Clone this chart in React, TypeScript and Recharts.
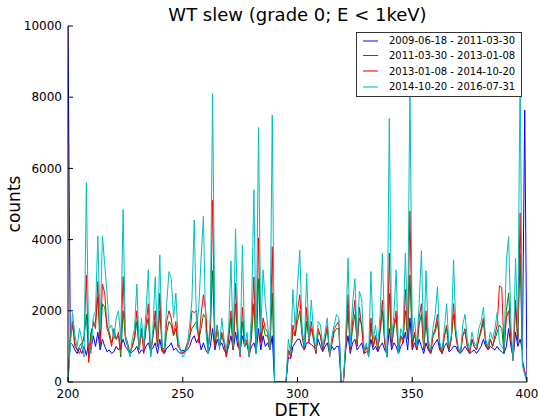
import React from "react";
import { LineChart, Line, XAxis, YAxis } from "recharts";

const DETX_START = 200;

const blueVals = [
  10000, 1100, 1050, 900, 800, 950, 800, 1000, 750, 1100,
  900, 1300, 1000, 1400, 900, 1200, 1000, 850, 900, 800,
  850, 1000, 900, 1000, 1200, 1000, 900, 800, 850, 900,
  1000, 800, 900, 850, 1000, 1100, 900, 950, 1100, 800,
  1200, 850, 800, 950, 1000, 1100, 900, 950, 850, 800,
  900, 850, 900, 1000, 1200, 1300, 1100, 1250, 900, 1100,
  900, 800, 1000, 1500, 900, 1200, 1000, 1100, 900, 800,
  1000, 1300, 900, 1400, 1000, 900, 1300, 1000, 1100, 800,
  1000, 1100, 850, 1500, 900, 1300, 1000, 1100, 900, 1300,
  0, 0, 0, 0, 0, 0, 700, 650, 1000, 1100,
  1200, 1200, 1000, 900, 1100, 1100, 1050, 1000, 900, 1200,
  1000, 850, 1000, 1100, 800, 1000, 900, 1000, 1000, 0,
  0, 900, 1300, 800, 1100, 1200, 900, 1000, 1100, 800,
  850, 800, 1200, 900, 1000, 850, 1000, 1100, 900, 800,
  1500, 900, 1100, 1000, 800, 1000, 1100, 1400, 900, 1800,
  900, 1100, 900, 1200, 1000, 800, 1100, 900, 800, 1000,
  1100, 1200, 900, 800, 1000, 1100, 850, 900, 1000, 1000,
  850, 800, 900, 1000, 900, 800, 850, 900, 800, 900,
  1000, 1200, 1000, 900, 1000, 950, 900, 1000, 900, 850,
  800, 1000, 1500, 1000, 700, 1400, 1000, 1200, 900, 7640,
  0,
];

const greenVals = [
  0, 1300, 1700, 1100, 900, 1000, 1100, 1200, 1900, 700,
  1400, 1600, 1700, 2400, 1000, 2200, 2100, 1600, 1400, 1100,
  1300, 1200, 1300, 700, 2000, 1300, 1100, 800, 1000, 1200,
  1700, 900, 1400, 1000, 1500, 1800, 800, 1300, 1700, 1000,
  2000, 1000, 800, 1400, 1700, 1600, 1300, 1500, 1000, 900,
  800, 900, 1100, 1300, 1500, 1600, 1700, 1200, 1500, 1900,
  1800, 900, 1400, 3130, 1000, 1500, 1000, 1300, 1100, 700,
  1200, 1800, 900, 2200, 1200, 800, 1700, 1000, 1100, 700,
  1300, 2200, 800, 2900, 1100, 1600, 1300, 1300, 900, 2500,
  0, 0, 0, 0, 0, 0, 900, 800, 1400, 1300,
  1700, 2000, 1300, 900, 1700, 1200, 1500, 1200, 800, 1400,
  1300, 900, 1200, 1500, 800, 1100, 1400, 1500, 1500, 0,
  0, 1000, 2000, 900, 1500, 1900, 1100, 1800, 1600, 900,
  1000, 800, 1600, 1000, 1300, 900, 1400, 2000, 1100, 700,
  2500, 1000, 1500, 1800, 800, 1300, 1200, 2000, 1200, 3000,
  1000, 1400, 900, 1600, 1900, 900, 1700, 1000, 800, 1300,
  1400, 1700, 1000, 800, 1300, 1500, 900, 1200, 1900, 1300,
  900, 800, 1300, 1400, 1000, 800, 1200, 1000, 900, 1200,
  1400, 1700, 1100, 900, 1200, 1000, 1200, 1400, 1600, 1500,
  800, 2000, 2500, 1200, 600, 2200, 1100, 3600, 600, 300,
  0,
];

const redVals = [
  0, 1200, 1600, 1000, 900, 800, 1000, 1300, 3000, 550,
  1200, 1700, 1500, 2820, 1100, 2750, 2500, 1500, 1300, 1000,
  1500, 1200, 1400, 900, 2960, 1200, 1000, 800, 1000, 1300,
  2000, 900, 1500, 800, 1600, 2200, 700, 1300, 2000, 1000,
  2500, 900, 800, 1700, 2000, 1800, 1300, 1700, 1000, 900,
  800, 850, 1000, 1200, 2000, 1950, 2000, 1100, 1900, 2450,
  2000, 900, 1500, 5100, 1000, 1600, 1000, 1400, 1100, 700,
  1300, 2000, 900, 2770, 1300, 700, 2100, 1000, 1200, 700,
  1500, 2950, 800, 4050, 1100, 1800, 1500, 1400, 900, 3800,
  0, 0, 0, 0, 0, 0, 900, 700, 1600, 1300,
  2000, 2450, 1400, 900, 2100, 1100, 1700, 1200, 800, 1500,
  1300, 900, 1200, 1600, 700, 1100, 1500, 1600, 1700, 0,
  0, 1000, 2450, 900, 1700, 2300, 1000, 2100, 1500, 800,
  1000, 700, 1800, 1000, 1300, 900, 1500, 2300, 1100, 700,
  3620, 1000, 1600, 2000, 800, 1300, 1100, 2600, 1300, 4800,
  1000, 1400, 900, 1800, 2200, 900, 2000, 1000, 800, 1300,
  1500, 1900, 1000, 800, 1300, 1600, 900, 1200, 2200, 1300,
  900, 800, 1300, 1500, 1000, 800, 1200, 1000, 900, 1200,
  1500, 1800, 1100, 900, 1200, 1000, 1300, 1600, 2700, 2650,
  900, 1800, 2000, 1200, 600, 2300, 1200, 4750, 600, 300,
  0,
];

const cyanVals = [
  0, 1000, 1950, 1300, 1000, 1500, 1200, 700, 5600, 1100,
  800, 1800, 2000, 4100, 1500, 4100, 3300, 2500, 1500, 1600,
  1200, 1800, 2000, 1200, 4850, 1300, 1000, 700, 1200, 1500,
  2750, 900, 1800, 1000, 2000, 3150, 700, 1500, 2950, 1200,
  3570, 1000, 900, 2200, 3100, 2900, 1800, 2500, 1200, 900,
  700, 800, 1000, 1600, 2300, 4550, 1500, 2100, 3500, 4650,
  1500, 800, 1800, 8100, 1200, 1600, 900, 1800, 1200, 900,
  1500, 3400, 1000, 4300, 1500, 800, 3850, 1000, 1400, 700,
  2000, 5400, 800, 7150, 1400, 3150, 2200, 1600, 900, 7500,
  0, 0, 0, 0, 0, 0, 1200, 800, 2600, 1500,
  2700, 3700, 1500, 1000, 3050, 1200, 2300, 1400, 900, 1700,
  1600, 1000, 1400, 1800, 700, 1300, 1600, 1900, 1800, 0,
  0, 1200, 3480, 1000, 2200, 2900, 1200, 2550, 2300, 900,
  1100, 700, 3100, 1200, 1600, 1000, 1900, 3620, 1300, 700,
  7400, 1200, 1900, 3150, 800, 1500, 1300, 3620, 1500, 8400,
  1200, 1800, 1000, 2200, 3690, 1000, 3130, 1200, 900, 1500,
  1900, 2680, 1100, 900, 1500, 2200, 1000, 1300, 3430, 1500,
  1000, 800, 1600, 1900, 1200, 900, 1400, 1100, 1000, 1500,
  1700, 2100, 1200, 1000, 1400, 1200, 1500, 1950, 1100, 1000,
  900, 3400, 4080, 1600, 600, 3480, 1500, 8800, 450, 200,
  0,
];

const seriesNames = [
  "2009-06-18 - 2011-03-30",
  "2011-03-30 - 2013-01-08",
  "2013-01-08 - 2014-10-20",
  "2014-10-20 - 2016-07-31",
];
const seriesColors = ["#0000ff", "#008000", "#ff0000", "#00bfbf"];
const legendSwatch = [
  { color: "rgba(0,0,255,0.5)", w: 2 },
  { color: "#008000", w: 1 },
  { color: "rgba(255,0,0,0.55)", w: 2 },
  { color: "rgba(0,191,191,0.55)", w: 2 },
];
const xTicks = [200, 250, 300, 350, 400];
const yTicks = [0, 2000, 4000, 6000, 8000, 10000];

const data = blueVals.map((b, i) => ({
  detx: DETX_START + i,
  s0: b,
  s1: greenVals[i],
  s2: redVals[i],
  s3: cyanVals[i],
}));

const FONT = "'DejaVu Sans', sans-serif";

export default function App() {
  return (
    <div style={{ position: "absolute", left: 0, top: 0, width: 539, height: 419, background: "#fff", fontFamily: FONT }}>
      <LineChart width={539} height={419} data={data} margin={{ top: 26, right: 12, left: 0, bottom: 0 }}>
        <XAxis
          dataKey="detx"
          type="number"
          domain={[200, 400]}
          ticks={xTicks}
          height={37}
          stroke="#000"
          tickSize={-5}
          tickMargin={12}
          tick={{ fill: "#000", fontSize: 12, fontFamily: FONT }}
          axisLine={{ stroke: "#000" }}
          tickLine={{ stroke: "#000" }}
          allowDataOverflow
        />
        <XAxis
          xAxisId="top"
          orientation="top"
          dataKey="detx"
          type="number"
          domain={[200, 400]}
          ticks={xTicks}
          height={0}
          tickSize={-5}
          tick={false}
          axisLine={{ stroke: "#000" }}
          tickLine={{ stroke: "#000" }}
        />
        <YAxis
          type="number"
          domain={[0, 10000]}
          ticks={yTicks}
          width={68}
          tickSize={-5}
          tickMargin={11}
          tick={{ fill: "#000", fontSize: 12, fontFamily: FONT }}
          axisLine={{ stroke: "#000" }}
          tickLine={{ stroke: "#000" }}
          allowDataOverflow
        />
        <YAxis
          yAxisId="right"
          orientation="right"
          type="number"
          domain={[0, 10000]}
          ticks={yTicks}
          width={0}
          tickSize={-5}
          tick={false}
          axisLine={{ stroke: "#000" }}
          tickLine={{ stroke: "#000" }}
        />
        {["s0", "s1", "s2", "s3"].map((k, i) => (
          <Line
            key={k}
            dataKey={k}
            name={seriesNames[i]}
            stroke={seriesColors[i]}
            strokeWidth={1}
            dot={false}
            type="linear"
            isAnimationActive={false}
          />
        ))}
      </LineChart>
      <div style={{ position: "absolute", left: 68, width: 459, top: 4, textAlign: "center", fontSize: 18, lineHeight: "21px", color: "#000" }}>
        WT slew (grade 0; E &lt; 1keV)
      </div>
      <div style={{ position: "absolute", left: 68, width: 459, top: 400, textAlign: "center", fontSize: 17, lineHeight: "20px", color: "#000" }}>
        DETX
      </div>
      <div style={{ position: "absolute", left: 14, top: 204, transform: "translate(-50%, -50%) rotate(-90deg)", fontSize: 17, lineHeight: "20px", color: "#000", whiteSpace: "nowrap" }}>
        counts
      </div>
      <div style={{ position: "absolute", left: 356, top: 32, width: 166, height: 65, border: "1px solid #333", background: "#fff", boxSizing: "border-box", paddingTop: 0 }}>
        {seriesNames.map((n, i) => (
          <div key={n} style={{ display: "flex", alignItems: "center", height: 15.3, fontSize: 10, lineHeight: "15px" }}>
            <div style={{ marginLeft: 6, width: 15, height: 0, borderTop: `${legendSwatch[i].w}px solid ${legendSwatch[i].color}` }} />
            <span style={{ marginLeft: 11, color: "#000", whiteSpace: "nowrap" }}>{n}</span>
          </div>
        ))}
      </div>
    </div>
  );
}
